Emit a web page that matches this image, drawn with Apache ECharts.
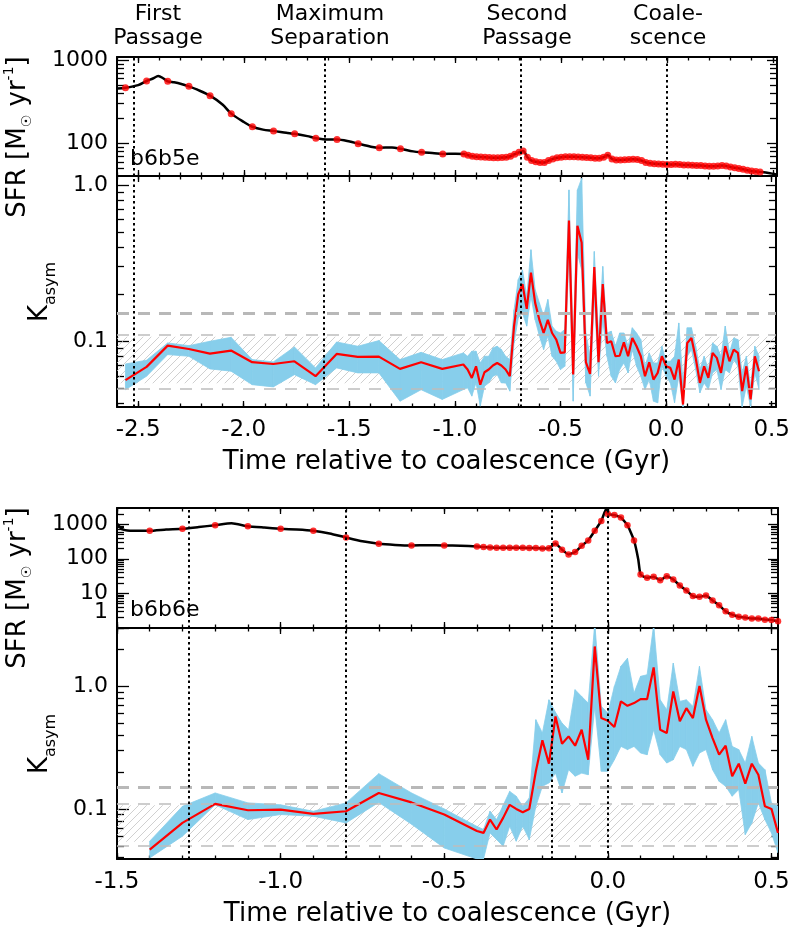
<!DOCTYPE html>
<html><head><meta charset="utf-8">
<script src="https://cdn.jsdelivr.net/npm/echarts@6/dist/echarts.min.js"></script>
<style>html,body{margin:0;padding:0;background:#fff}#c{width:793px;height:937px}</style>
</head><body><div id="c"></div>
<script>
const FONT = 'DejaVu Sans';

// ---------------- merger b6b5e (top figure) ----------------
const xTicksTop = [-2.5, -2.0, -1.5, -1.0, -0.5, 0.0, 0.5];
const eventsTop = [-2.52, -1.62, -0.685, 0.0];
const eventNames = ['First\nPassage', 'Maximum\nSeparation', 'Second\nPassage', 'Coale-\nscence'];
const sfrTicksTop = [100, 1000];

// SFR: red snapshot points [t, SFR]
const sfrTopDots = [
 [-2.56,465],[-2.46,560],[-2.36,555],[-2.26,483],[-2.16,373],[-2.06,227],[-1.96,158],[-1.86,141],
 [-1.76,130],[-1.66,115],[-1.56,111],[-1.46,99],[-1.36,88.5],[-1.26,86],[-1.16,78],[-1.06,74.5],
 [-0.96,74.5],[-0.94,72],[-0.92,70],[-0.90,69],[-0.88,68.5],[-0.86,68],[-0.84,67.5],[-0.82,67],
 [-0.80,67],[-0.78,67.5],[-0.76,68],[-0.74,70],[-0.72,74],[-0.70,78],[-0.68,81],[-0.66,68],
 [-0.64,62],[-0.62,60],[-0.60,59],[-0.58,59],[-0.56,62],[-0.54,65],[-0.52,67],[-0.50,68],
 [-0.48,69],[-0.46,69],[-0.44,69],[-0.42,68.5],[-0.40,68],[-0.38,67.5],[-0.36,67],[-0.34,66],
 [-0.32,66],[-0.30,68],[-0.28,72],[-0.26,65],[-0.24,63],[-0.22,63],[-0.20,63.5],[-0.18,64],
 [-0.16,64.5],[-0.14,64],[-0.12,62],[-0.10,59],[-0.08,57.5],[-0.06,57],[-0.04,56.5],[-0.02,56],
 [0.00,55.5],[0.02,55.5],[0.04,56],[0.06,55.5],[0.08,55],[0.10,55],[0.12,54.5],[0.14,54],
 [0.16,54],[0.18,53.5],[0.20,53],[0.22,53],[0.24,53.5],[0.26,54],[0.28,53.5],[0.30,52],
 [0.32,51],[0.34,50],[0.36,48.7],[0.38,47.5],[0.40,46.5],[0.42,45.8],[0.44,45.3]
];
// SFR: extra points of the continuous black curve
const sfrTopCurve = [
 [-2.6,455],[-2.5,500],[-2.43,600],[-2.405,643],[-2.38,600],[-2.33,540],[-2.30,520],[-2.22,440],
 [-2.10,290],[-2.00,180],[-1.91,146],[-1.80,134],[-1.70,122],[-1.60,111],[-1.50,105],[-1.40,91],
 [-1.30,89],[-1.20,80],[-1.10,76],[-1.00,75],[0.48,44],[0.52,42]
];
// K_asym: [t, K, lower, upper]
const kTop = [
 [-2.56,0.0564,0.049,0.0716],[-2.46,0.0686,0.0598,0.0757],[-2.36,0.0938,0.0822,0.0976],
 [-2.26,0.0893,0.0802,0.0938],[-2.16,0.0834,0.0666,0.100],[-2.06,0.0872,0.0644,0.106],
 [-1.96,0.0735,0.0528,0.0764],[-1.86,0.0716,0.0511,0.0738],[-1.76,0.0745,0.0612,0.092],
 [-1.66,0.0598,0.0528,0.0676],[-1.56,0.083,0.0676,0.099],[-1.46,0.0794,0.0628,0.093],
 [-1.36,0.0798,0.0628,0.101],[-1.26,0.0666,0.0414,0.0764],[-1.16,0.0735,0.049,0.085],
 [-1.06,0.0666,0.0425,0.0764],
 [-0.96,0.071,0.0491,0.0843],[-0.94,0.066,0.0504,0.0802],[-0.92,0.0583,0.0446,0.0864],
 [-0.90,0.0692,0.0542,0.0864],[-0.88,0.0528,0.0385,0.0727],[-0.86,0.0634,0.0516,0.0802],
 [-0.84,0.066,0.0542,0.0802],[-0.82,0.070,0.0598,0.0907],[-0.80,0.0727,0.0613,0.093],
 [-0.78,0.070,0.0542,0.0885],[-0.76,0.066,0.0542,0.0802],[-0.74,0.0598,0.048,0.0764],
 [-0.72,0.125,0.0976,0.159],[-0.70,0.200,0.141,0.248],[-0.68,0.232,0.152,0.286],
 [-0.66,0.161,0.125,0.194],[-0.64,0.275,0.194,0.385],[-0.62,0.176,0.137,0.214],
 [-0.60,0.137,0.108,0.176],[-0.58,0.113,0.0885,0.145],[-0.56,0.137,0.108,0.185],
 [-0.54,0.113,0.0802,0.125],[-0.52,0.1025,0.0745,0.116],[-0.50,0.0843,0.0659,0.113],
 [-0.48,0.085,0.0692,0.119],[-0.46,0.592,0.366,0.929],[-0.44,0.0613,0.0414,0.09],
 [-0.42,0.547,0.366,0.929],[-0.40,0.428,0.286,1.10],[-0.38,0.0735,0.0542,0.113],
 [-0.36,0.0618,0.0446,0.0802],[-0.34,0.298,0.194,0.375],[-0.32,0.0735,0.0598,0.108],
 [-0.30,0.232,0.137,0.301],[-0.28,0.0976,0.0802,0.113],[-0.26,0.100,0.0598,0.116],
 [-0.24,0.0802,0.0542,0.093],[-0.22,0.0808,0.0659,0.113],[-0.20,0.0985,0.0727,0.113],
 [-0.18,0.0802,0.0628,0.093],[-0.16,0.105,0.0885,0.122],[-0.14,0.093,0.0692,0.113],
 [-0.12,0.0802,0.0598,0.1025],[-0.10,0.0598,0.0491,0.0692],[-0.08,0.0735,0.0569,0.0843],
 [-0.06,0.0569,0.0414,0.0727],[-0.04,0.0628,0.0404,0.0727],[-0.02,0.0802,0.0692,0.093],
 [0.00,0.0692,0.0598,0.0745],[0.02,0.0676,0.0542,0.0745],[0.04,0.0569,0.0404,0.0802],
 [0.06,0.0764,0.0598,0.131],[0.08,0.0394,0.0381,0.0542],[0.10,0.0976,0.0802,0.122],
 [0.12,0.105,0.0885,0.122],[0.14,0.0783,0.0659,0.093],[0.16,0.0542,0.0468,0.0659],
 [0.18,0.0692,0.0542,0.0802],[0.20,0.0583,0.0491,0.0659],[0.22,0.0843,0.0628,0.0976],
 [0.24,0.0783,0.0659,0.093],[0.26,0.0628,0.0491,0.0802],[0.28,0.093,0.0659,0.125],
 [0.30,0.0745,0.0628,0.0843],[0.32,0.0885,0.0764,0.105],[0.34,0.0843,0.0692,0.1025],
 [0.36,0.048,0.0381,0.0628],[0.38,0.0692,0.0516,0.0802],[0.40,0.0425,0.0381,0.0516],
 [0.42,0.0802,0.0628,0.093],[0.44,0.0643,0.0491,0.0802]
];

// ---------------- merger b6b6e (bottom figure) ----------------
const xTicksBot = [-1.5, -1.0, -0.5, 0.0, 0.5];
const eventsBot = [-1.28, -0.80, -0.168, 0.0];
const sfrTicksBot = [1, 10, 100, 1000];

const sfrBotDots = [
 [-1.4,643],[-1.3,735],[-1.2,936],[-1.1,875],[-1.0,735],[-0.9,643],[-0.8,413],[-0.7,272],
 [-0.6,243],[-0.5,243],
 [-0.40,228],[-0.38,218],[-0.36,213],[-0.34,208],[-0.32,208],[-0.30,208],[-0.28,208],[-0.26,208],
 [-0.24,204],[-0.22,204],[-0.20,199],[-0.18,203],[-0.16,278],[-0.14,183],[-0.12,134],[-0.10,157],
 [-0.08,238],[-0.06,339],[-0.04,643],[-0.02,1247],[0.00,1983],[0.02,1854],[0.04,1555],[0.06,936],
 [0.08,339],[0.10,34.9],[0.12,28],[0.14,30],[0.16,24],[0.18,31.3],[0.20,25],[0.22,16.8],
 [0.24,12.1],[0.26,8.3],[0.28,7.9],[0.30,8.7],[0.32,6.2],[0.34,4.5],[0.36,3.0],[0.38,2.4],
 [0.40,2.1],[0.42,1.98],[0.44,1.85],[0.46,1.85],[0.48,1.73],[0.50,1.7],[0.52,1.55]
];
const sfrBotCurve = [
 [-1.5,1050],[-1.485,720],[-1.46,650],[-1.35,700],[-1.25,830],[-1.15,1060],[-1.05,800],
 [-0.95,700],[-0.85,540],[-0.75,320],[-0.65,252],[-0.55,248],[-0.45,240],[-0.004,2950],[0.093,95]
];
const kBot = [
 [-1.4,0.0466,0.0398,0.0545],[-1.3,0.0769,0.0599,0.105],[-1.2,0.110,0.108,0.135],
 [-1.1,0.0975,0.0818,0.112],[-1.0,0.0988,0.090,0.108],[-0.9,0.091,0.0871,0.0957],
 [-0.8,0.0957,0.0769,0.112],[-0.7,0.135,0.113,0.194],[-0.6,0.113,0.075,0.135],
 [-0.5,0.090,0.048,0.100],[-0.4,0.066,0.039,0.072],
 [-0.38,0.0637,0.039,0.068],[-0.36,0.0818,0.0637,0.0957],[-0.34,0.0679,0.0562,0.0818],
 [-0.32,0.0845,0.0496,0.107],[-0.30,0.108,0.0722,0.139],[-0.28,0.100,0.0545,0.127],
 [-0.26,0.094,0.0722,0.105],[-0.24,0.100,0.0562,0.123],[-0.22,0.203,0.105,0.535],
 [-0.20,0.363,0.153,0.417],[-0.18,0.234,0.163,0.778],[-0.16,0.569,0.196,0.614],
 [-0.14,0.341,0.135,0.502],[-0.12,0.391,0.209,0.443],[-0.10,0.328,0.185,0.94],
 [-0.08,0.443,0.196,0.828],[-0.06,0.252,0.19,0.731],[-0.04,2.12,0.687,3.28],
 [-0.02,0.552,0.203,0.687],[0.00,0.525,0.203,0.607],[0.02,0.466,0.252,1.0],
 [0.04,0.755,0.324,1.46],[0.06,0.695,0.305,1.70],[0.08,0.731,0.324,0.883],
 [0.10,0.788,0.286,1.21],[0.12,0.788,0.277,1.245],[0.14,1.43,0.443,3.18],
 [0.16,0.443,0.277,0.778],[0.18,0.417,0.237,0.645],[0.20,0.91,0.252,1.55],
 [0.22,0.519,0.324,0.755],[0.24,0.665,0.305,0.778],[0.26,0.552,0.223,0.687],
 [0.28,1.01,0.286,1.46],[0.30,0.535,0.305,0.645],[0.32,0.379,0.209,0.535],
 [0.34,0.277,0.168,0.417],[0.36,0.328,0.153,0.535],[0.38,0.185,0.127,0.324],
 [0.40,0.234,0.144,0.305],[0.42,0.161,0.0617,0.237],[0.44,0.234,0.0769,0.391],
 [0.46,0.19,0.112,0.237],[0.48,0.105,0.0818,0.209],[0.50,0.100,0.0637,0.112],
 [0.52,0.0637,0.0437,0.105]
];

// shared K_asym reference levels and ticks
const kTicks = [0.1, 1.0];
const bandLo = 0.054, bandHi = 0.107, kThreshold = 0.15;
const xTitle = 'Time relative to coalescence (Gyr)';

// ---------------- layout ----------------
const grids = [
  {left:117, top:57,  width:660, height:119},
  {left:117, top:176, width:660, height:231},
  {left:117, top:508, width:661, height:120},
  {left:117, top:628, width:661, height:231}
];
const X_RANGE = [[-2.6,0.52],[-2.6,0.52],[-1.5,0.52],[-1.5,0.52]];
const Y_RANGE = [[40.5,1087],[0.038,1.14],[0.99,2950],[0.039,3.0]];
const X_MAJOR = [xTicksTop, xTicksTop, xTicksBot, xTicksBot];
const Y_MAJOR = [sfrTicksTop, kTicks, sfrTicksBot, kTicks];

function minorX(a,b){const o=[];for(let i=Math.ceil(a*10-1e-6);i<=Math.floor(b*10+1e-6);i++)o.push(+(i/10).toFixed(1));return o;}
function minorLog(a,b){const o=[];for(let e=-3;e<=4;e++)for(let m=2;m<=9;m++){const v=+(m*Math.pow(10,e)).toPrecision(3);if(v>=a&&v<=b)o.push(v);}return o;}

const xAxes = [], yAxes = [];
for (let g=0; g<4; g++){
  const [x0,x1] = X_RANGE[g], [y0,y1] = Y_RANGE[g];
  const hasX = (g===1||g===3);
  const mkX = (pos, ticks, len, line, label) => ({
    type:'value', gridIndex:g, min:x0, max:x1, position:pos, splitLine:{show:false},
    axisLine:{show:line, onZero:false, lineStyle:{color:'#000', width:2}},
    axisTick:{show:true, inside:true, length:len, customValues:ticks, lineStyle:{color:'#000', width:1.3}},
    axisLabel:{show:label, customValues:ticks, formatter:v=>v.toFixed(1), fontSize:23, fontFamily:FONT, color:'#000', margin:12,
      showMinLabel:true, showMaxLabel:true, hideOverlap:false},
    name: label ? xTitle : '', nameLocation:'middle', nameGap:42,
    nameTextStyle:{fontSize:26, fontFamily:FONT, color:'#000'}
  });
  xAxes.push(mkX('bottom', X_MAJOR[g], 6, true, hasX));
  xAxes.push(mkX('bottom', minorX(x0,x1), 3.5, false, false));
  xAxes.push(mkX('top', X_MAJOR[g], 6, true, false));
  xAxes.push(mkX('top', minorX(x0,x1), 3.5, false, false));
  const isK = (g===1||g===3);
  const mkY = (pos, ticks, len, line, label, labelVals) => ({
    type:'log', logBase:10, gridIndex:g, min:y0, max:y1, position:pos, splitLine:{show:false},
    axisLine:{show:line, onZero:false, lineStyle:{color:'#000', width:2}},
    axisTick:{show:len>0, inside:true, length:len, customValues:ticks, lineStyle:{color:'#000', width:1.3}},
    axisLabel:{show:label, customValues:labelVals || ticks, fontSize:22, fontFamily:FONT, color:'#000', margin:9,
      showMinLabel:true, showMaxLabel:true, hideOverlap:false,
      formatter: v => isK ? v.toFixed(1) : (Math.round(v)===1 ? '{s|1}' : String(Math.round(v))),
      rich:{s:{fontSize:22, fontFamily:FONT, color:'#000', padding:[0,0,32,0]}}}
  });
  // the lowest label of the bottom SFR panel ("1") sits on its own axis, lifted off the panel edge
  const mainLabels = (g===2) ? Y_MAJOR[g].filter(v=>v!==1) : Y_MAJOR[g];
  yAxes.push(mkY('left', Y_MAJOR[g], 12, true, true, mainLabels));
  yAxes.push(mkY('left', minorLog(y0,y1), 7, false, false));
  yAxes.push(mkY('right', Y_MAJOR[g], 10, true, false));
  yAxes.push(mkY('right', minorLog(y0,y1), 7, false, false));
}
yAxes.push((function(){const g=2;const [y0,y1]=Y_RANGE[g];return {
  type:'log', logBase:10, gridIndex:g, min:y0, max:y1, position:'left', splitLine:{show:false},
  axisLine:{show:false, onZero:false}, axisTick:{show:false},
  axisLabel:{show:true, customValues:[sfrTicksBot[0]], fontSize:22, fontFamily:FONT, color:'#000', margin:9,
    showMinLabel:true, formatter:v=>'{s|'+Math.round(v)+'}',
    rich:{s:{fontSize:22, fontFamily:FONT, color:'#000', padding:[0,0,32,0]}}}};})());

// hatch pattern for the reference band
const hatch = document.createElement('canvas');
hatch.width = 8; hatch.height = 8;
(function(){const c=hatch.getContext('2d');c.strokeStyle='#c4c4c4';c.lineWidth=0.8;
  c.beginPath();c.moveTo(0,8);c.lineTo(8,0);c.moveTo(-2,2);c.lineTo(2,-2);c.moveTo(6,10);c.lineTo(10,6);c.stroke();})();

const SKY = '#87CEEB';
function bandSeries(g, rows){
  return {type:'custom', xAxisIndex:4*g, yAxisIndex:4*g, z:1, silent:true, clip:true,
    data: rows.map(r=>[r[0], r[2], r[3]]),
    encode:{x:0, y:[1,2]},
    renderItem:(params, api)=>{
      const i = params.dataIndex; if (i >= rows.length-1) return;
      const a = rows[i], b = rows[i+1];
      const pts = [api.coord([a[0],a[3]]), api.coord([b[0],b[3]]), api.coord([b[0],b[2]]), api.coord([a[0],a[2]])];
      const cs = params.coordSys;
      return {type:'polygon', shape:{points:pts}, style:{fill:SKY, stroke:SKY, lineWidth:0.8},
        clipPath:{type:'rect', shape:{x:cs.x, y:cs.y, width:cs.width, height:cs.height}}};
    }};
}
function eventLines(evts){
  return evts.map(t=>({xAxis:t, lineStyle:{color:'#000', width:2, type:[2.5,3]}}));
}
function kSeries(g, rows, evts){
  return [
    bandSeries(g, rows),
    {type:'line', xAxisIndex:4*g, yAxisIndex:4*g, z:2, silent:true, symbol:'none',
      data: rows.map(r=>[r[0], r[1]]), lineStyle:{opacity:0},
      markArea:{silent:true, label:{show:false}, itemStyle:{color:{image:hatch, repeat:'repeat'}},
        data:[[{yAxis:bandLo},{yAxis:bandHi}]]},
      markLine:{silent:true, symbol:['none','none'], label:{show:false}, animation:false,
        data:[
          {yAxis:kThreshold, lineStyle:{color:'#b8b8b8', width:3, type:[12,9]}},
          {yAxis:bandHi, lineStyle:{color:'#bdbdbd', width:1.5, type:[12,9]}},
          {yAxis:bandLo, lineStyle:{color:'#bdbdbd', width:1.5, type:[12,9]}}
        ].concat(eventLines(evts))}},
    {type:'line', xAxisIndex:4*g, yAxisIndex:4*g, z:4, silent:true, symbol:'none',
      data: rows.map(r=>[r[0], r[1]]), lineStyle:{color:'#ff0000', width:2.2}}
  ];
}
function sfrSeries(g, dots, curve, evts, smooth, dotSize){
  const line = dots.concat(curve).sort((a,b)=>a[0]-b[0]);
  return [
    {type:'line', xAxisIndex:4*g, yAxisIndex:4*g, z:3, silent:true, symbol:'none', smooth:smooth,
      data: line, lineStyle:{color:'#000', width:2.5}, clip:true,
      markLine:{silent:true, symbol:['none','none'], label:{show:false}, animation:false, data:eventLines(evts)}},
    {type:'scatter', xAxisIndex:4*g, yAxisIndex:4*g, z:4, silent:true, symbol:'circle', symbolSize:dotSize,
      data: dots, itemStyle:{color:'#ff0000'}}
  ];
}

const series = [].concat(
  sfrSeries(0, sfrTopDots, sfrTopCurve, eventsTop, 0.3, 7),
  kSeries(1, kTop, eventsTop),
  sfrSeries(2, sfrBotDots, sfrBotCurve, eventsBot, 0.15, 6.5),
  kSeries(3, kBot, eventsBot)
);

const annX = [158, 330, 527, 668];
const txt = (text, x, y, extra) => Object.assign({type:'text', x, y, silent:true,
  style:Object.assign({text, fontSize:22, fontFamily:FONT, fill:'#000'}, extra||{})});
const sfrRich = {
  a:{fontSize:26, fontFamily:FONT, fill:'#000', lineHeight:32},
  s:{fontSize:14, fontFamily:FONT, fill:'#000', lineHeight:14, verticalAlign:'bottom'},
  u:{fontSize:14, fontFamily:FONT, fill:'#000', lineHeight:14, verticalAlign:'top'}
};
const kRich = {
  a:{fontSize:26, fontFamily:FONT, fill:'#000', lineHeight:38},
  s:{fontSize:16, fontFamily:FONT, fill:'#000', lineHeight:16, verticalAlign:'bottom'}
};
const sfrName = '{a|SFR [M}{s|\u2609}{a| yr}{u|-1}{a|]}';
const kName = '{a|K}{s|asym}';
const graphic = [];
eventNames.forEach((n,i)=>graphic.push(txt(n, annX[i], 2, {align:'center', verticalAlign:'top', lineHeight:24})));
graphic.push(txt('b6b5e', 130, 159, {verticalAlign:'middle'}));
graphic.push(txt('b6b6e', 130, 610, {verticalAlign:'middle'}));
[[137],[588]].forEach(([y])=>graphic.push({type:'text', x:18, y, rotation:Math.PI/2, silent:true,
  style:{text:sfrName, rich:sfrRich, align:'center', verticalAlign:'middle'}}));
[[292],[744]].forEach(([y])=>graphic.push({type:'text', x:40, y, rotation:Math.PI/2, silent:true,
  style:{text:kName, rich:kRich, align:'center', verticalAlign:'middle'}}));

const chart = echarts.init(document.getElementById('c'));
chart.setOption({
  animation:false, backgroundColor:'#fff',
  grid: grids, xAxis: xAxes, yAxis: yAxes, series: series, graphic: graphic
});
</script></body></html>
